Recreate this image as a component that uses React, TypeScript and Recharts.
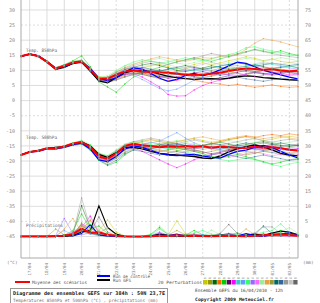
import React from 'react';
import { LineChart, Line, XAxis, YAxis, ReferenceLine } from 'recharts';

// forecast hours (12 h steps from run 16/04/2010 12h)
const HOURS = [0, 12, 24, 36, 48, 60, 72, 84, 96, 108, 120, 132, 144, 156, 168, 180, 192, 204, 216, 228, 240, 252, 264, 276, 288, 300, 312, 324, 336, 348, 360, 372, 384];
const DATE_TICKS = [12, 36, 60, 84, 108, 132, 156, 180, 204, 228, 252, 276, 300, 324, 348, 372];
const DATE_LABELS = ['17/04', '18/04', '19/04', '20/04', '21/04', '22/04', '23/04', '24/04', '25/04', '26/04', '27/04', '28/04', '29/04', '30/04', '01/05', '02/05'];
const DOTTED_DAYS = [132, 252, 372];
const LEFT_TICKS = [30, 25, 20, 15, 10, 5, 0, -5, -10, -15, -20, -25, -30, -35, -40, -45];
const RIGHT_TICKS = [75, 70, 65, 60, 55, 50, 45, 40, 35, 30, 25, 20, 15, 10, 5, 0];
const DOTTED_LEVELS = [25, -5, -40];

const PERT_COLORS = ['#c8c800', '#9a9a00', '#006600', '#ff6600', '#00cc00', '#660066', '#ff00ff', '#33cccc', '#6699ff', '#33ff66', '#9966ff', '#ff66ff', '#99ee99', '#e8a040', '#999933', '#006666', '#336699', '#999999', '#c4c4c4', '#666666'];
const PERT_NUMS = ['01', '02', '03', '04', '05', '06', '07', '08', '09', '10', '11', '12', '13', '14', '15', '16', '17', '18', '19', '20'];

// Temperature 850 hPa (°C)
const MEAN_850 = [14.7, 15.4, 14.7, 12.8, 10.6, 11.5, 12.6, 12.9, 10.2, 7.2, 7.3, 8.6, 9.6, 10.0, 9.6, 9.5, 9.4, 9.2, 8.9, 8.6, 8.5, 8.6, 8.9, 9.2, 9.8, 10.3, 10.6, 10.5, 10.2, 10.4, 10.0, 9.7, 9.9];
const CTRL_850 = [14.6, 15.4, 14.8, 13.0, 10.7, 11.2, 12.5, 13.0, 10.6, 7.4, 6.6, 7.5, 9.5, 10.8, 10.4, 9.0, 7.4, 6.4, 7.0, 8.3, 9.0, 8.2, 9.0, 10.2, 11.5, 12.7, 12.3, 11.2, 10.0, 9.3, 8.5, 7.8, 7.2];
const GFS_850 = [14.6, 15.4, 14.8, 12.8, 10.4, 11.0, 12.3, 12.8, 9.8, 6.5, 5.9, 7.6, 9.2, 10.0, 10.0, 9.6, 8.8, 8.0, 7.6, 7.3, 7.0, 7.2, 7.3, 7.1, 7.4, 7.9, 8.2, 8.0, 7.6, 7.4, 7.1, 6.9, 6.8];
const PERT_850 = [
  [14.7, 15.3, 14.9, 13.0, 10.8, 11.8, 12.9, 13.5, 11.0, 7.9, 7.8, 9.2, 10.5, 11.0, 10.8, 11.5, 12.0, 11.2, 10.5, 11.0, 12.0, 12.5, 11.8, 12.5, 13.2, 13.8, 14.5, 14.0, 13.2, 13.8, 13.0, 12.6, 13.0],
  [14.6, 15.5, 14.6, 12.6, 10.2, 11.3, 12.2, 12.5, 9.8, 6.5, 6.6, 8.0, 9.0, 9.6, 9.0, 8.2, 7.8, 8.4, 9.2, 9.0, 8.2, 7.6, 8.0, 8.8, 9.5, 9.0, 8.6, 9.2, 10.0, 10.5, 9.8, 9.2, 9.5],
  [14.8, 15.4, 14.8, 12.9, 10.7, 11.6, 12.7, 13.2, 10.5, 7.2, 6.8, 8.6, 10.2, 11.0, 11.8, 12.3, 11.6, 10.8, 10.0, 9.6, 10.2, 10.8, 11.5, 11.0, 10.4, 10.8, 11.4, 11.9, 11.2, 10.6, 11.0, 11.5, 10.8],
  [14.7, 15.3, 14.7, 12.7, 10.5, 11.4, 12.5, 12.8, 10.0, 6.8, 6.4, 7.2, 8.4, 9.2, 8.8, 8.0, 7.2, 6.5, 6.9, 7.5, 6.8, 6.2, 5.8, 5.5, 5.0, 5.4, 4.9, 4.4, 4.8, 5.2, 4.7, 4.4, 4.6],
  [14.6, 15.4, 14.9, 13.1, 10.9, 11.9, 13.2, 14.8, 11.2, 6.2, 4.5, 2.8, 5.5, 7.8, 9.0, 10.2, 11.0, 12.0, 12.8, 13.5, 14.2, 13.6, 13.0, 13.8, 14.6, 15.5, 16.2, 17.0, 16.4, 15.8, 16.5, 15.6, 15.0],
  [14.7, 15.3, 14.7, 12.8, 10.6, 11.5, 12.6, 12.9, 10.1, 7.0, 7.0, 8.3, 9.4, 9.8, 9.2, 8.6, 8.0, 7.4, 7.8, 8.5, 9.2, 9.6, 9.0, 8.4, 8.8, 9.4, 10.0, 9.6, 9.0, 8.6, 9.2, 9.8, 9.5],
  [14.7, 15.4, 14.6, 12.6, 10.4, 11.2, 12.4, 12.7, 9.8, 6.8, 6.6, 7.6, 8.6, 9.0, 7.8, 6.2, 4.5, 2.0, 1.5, 1.6, 3.5, 5.0, 6.0, 6.8, 7.5, 8.2, 8.8, 9.4, 10.0, 9.5, 9.0, 8.5, 8.8],
  [14.6, 15.3, 14.8, 13.0, 10.8, 11.6, 12.8, 13.1, 10.4, 7.4, 7.6, 9.0, 10.0, 10.4, 10.0, 9.5, 9.8, 10.4, 10.8, 10.2, 9.8, 10.2, 10.9, 11.5, 12.0, 11.6, 11.2, 11.8, 12.4, 12.0, 11.5, 11.2, 11.6],
  [14.7, 15.4, 14.7, 12.7, 10.5, 11.4, 12.5, 12.9, 10.2, 7.2, 7.4, 8.3, 9.0, 8.4, 7.0, 5.5, 4.0, 3.2, 3.8, 5.2, 6.8, 7.6, 8.2, 8.8, 9.6, 10.2, 10.8, 11.4, 11.0, 10.6, 11.2, 10.8, 10.4],
  [14.6, 15.3, 14.8, 12.9, 10.7, 11.7, 12.9, 13.4, 10.7, 7.6, 7.7, 9.8, 11.5, 12.8, 13.5, 13.0, 12.4, 12.8, 13.5, 14.2, 13.6, 13.2, 13.8, 14.5, 15.2, 16.0, 17.5, 17.8, 17.0, 16.4, 15.8, 15.2, 14.8],
  [14.7, 15.4, 14.8, 12.8, 10.6, 11.5, 12.6, 13.0, 10.3, 7.0, 7.1, 8.8, 10.4, 11.2, 10.6, 10.0, 9.4, 8.8, 9.4, 10.0, 10.6, 10.2, 9.6, 9.0, 8.6, 8.2, 8.8, 9.4, 8.8, 8.3, 8.8, 9.4, 9.0],
  [14.8, 15.5, 14.6, 12.6, 10.3, 11.3, 12.4, 12.6, 9.7, 6.6, 6.7, 7.8, 9.0, 9.6, 10.2, 9.4, 8.2, 7.4, 6.6, 7.2, 8.0, 7.4, 6.8, 7.5, 8.4, 9.0, 8.4, 7.8, 8.4, 9.0, 8.6, 8.2, 8.5],
  [14.7, 15.3, 14.8, 13.0, 11.0, 11.8, 12.9, 13.3, 10.6, 7.8, 8.2, 10.0, 11.6, 12.2, 12.8, 13.4, 14.0, 13.2, 12.4, 12.0, 12.6, 13.2, 12.6, 12.0, 12.6, 13.4, 14.0, 13.6, 13.0, 13.6, 14.2, 13.8, 13.2],
  [14.6, 15.4, 14.7, 12.9, 10.7, 11.6, 12.7, 13.0, 10.4, 7.4, 7.6, 9.4, 11.0, 12.0, 13.0, 13.8, 14.5, 14.0, 13.4, 13.0, 13.6, 14.2, 14.0, 14.6, 15.0, 15.2, 17.0, 19.0, 20.5, 20.0, 19.4, 18.6, 17.8],
  [14.7, 15.3, 14.7, 12.7, 10.4, 11.2, 12.3, 12.6, 9.8, 6.6, 6.2, 7.0, 8.0, 8.8, 9.4, 9.0, 8.4, 9.0, 9.8, 10.6, 11.2, 10.6, 10.0, 10.6, 11.2, 10.8, 10.2, 9.6, 10.2, 10.8, 10.4, 10.0, 10.2],
  [14.6, 15.4, 14.8, 12.9, 10.8, 11.7, 12.8, 13.1, 10.2, 6.9, 6.8, 8.2, 9.6, 10.4, 11.0, 10.4, 9.8, 10.4, 11.0, 11.6, 11.0, 10.4, 10.8, 11.4, 12.0, 12.6, 12.0, 11.4, 11.8, 12.4, 12.0, 11.6, 12.0],
  [14.7, 15.3, 14.6, 12.7, 10.5, 11.4, 12.4, 12.7, 9.9, 6.7, 6.5, 7.6, 8.8, 9.2, 8.6, 8.0, 7.6, 8.2, 8.8, 8.4, 7.8, 7.4, 7.0, 7.6, 8.2, 7.8, 7.2, 6.8, 6.4, 6.9, 7.4, 7.0, 6.6],
  [14.7, 15.4, 14.8, 13.0, 10.8, 11.7, 12.9, 13.3, 10.6, 7.5, 7.8, 9.4, 10.8, 11.6, 12.4, 13.0, 12.6, 12.0, 12.8, 13.4, 14.0, 14.8, 15.6, 15.0, 14.4, 15.2, 16.0, 16.8, 16.2, 15.6, 15.0, 14.6, 14.2],
  [14.6, 15.3, 14.7, 12.8, 10.6, 11.5, 12.6, 12.9, 10.2, 7.0, 7.3, 8.6, 9.8, 10.6, 11.2, 11.8, 12.4, 11.8, 11.2, 10.8, 11.4, 12.0, 12.6, 12.0, 11.4, 11.0, 11.6, 12.2, 12.8, 12.4, 12.0, 12.6, 12.2],
  [14.7, 15.3, 14.6, 12.6, 10.4, 11.2, 12.3, 12.5, 9.6, 6.4, 6.0, 6.8, 7.8, 8.6, 9.2, 9.8, 10.2, 9.6, 9.0, 8.6, 8.2, 8.6, 9.2, 9.8, 10.4, 10.0, 9.6, 9.2, 8.8, 9.2, 9.6, 9.2, 8.8],
];

// Temperature 500 hPa (°C)
const MEAN_500 = [-18.0, -17.0, -16.6, -15.8, -15.8, -15.2, -14.2, -13.7, -15.3, -18.5, -19.3, -17.5, -15.0, -14.3, -14.8, -15.0, -15.4, -15.2, -15.3, -15.0, -15.3, -15.1, -15.6, -15.3, -15.4, -15.6, -15.7, -15.3, -15.6, -15.4, -15.8, -16.3, -16.5];
const CTRL_500 = [-18.0, -17.0, -16.8, -16.0, -16.0, -15.5, -14.6, -14.0, -16.0, -19.6, -20.2, -18.5, -16.0, -15.0, -15.5, -16.5, -17.5, -18.0, -18.2, -18.0, -17.8, -18.3, -18.8, -19.0, -17.8, -16.8, -16.4, -15.5, -14.8, -15.5, -16.8, -18.0, -19.0];
const GFS_500 = [-18.0, -17.0, -16.6, -15.8, -15.5, -15.3, -14.3, -13.8, -15.0, -17.8, -18.8, -17.2, -15.6, -15.5, -16.0, -16.8, -17.5, -17.8, -18.0, -18.3, -18.5, -19.0, -19.2, -18.3, -17.0, -16.0, -15.2, -14.7, -15.3, -16.3, -17.5, -18.0, -18.3];
const PERT_500 = [
  [-18.0, -17.1, -16.5, -15.6, -15.6, -15.0, -14.0, -13.4, -14.8, -17.5, -18.4, -16.8, -14.8, -13.8, -13.5, -12.8, -13.4, -14.0, -13.6, -13.0, -12.6, -13.2, -13.8, -13.4, -12.8, -12.4, -12.0, -12.6, -13.2, -12.8, -12.2, -11.8, -12.2],
  [-18.1, -16.9, -16.7, -15.9, -16.0, -15.4, -14.6, -14.0, -15.8, -19.0, -20.2, -18.6, -16.4, -15.4, -15.8, -16.4, -17.0, -16.4, -15.8, -16.2, -16.8, -17.4, -16.8, -16.2, -16.8, -17.4, -18.0, -17.4, -16.8, -17.2, -17.8, -18.4, -18.0],
  [-17.9, -17.0, -16.4, -15.7, -15.5, -15.1, -14.2, -13.6, -15.0, -18.0, -19.0, -17.0, -15.0, -14.2, -14.6, -15.2, -14.6, -14.0, -14.4, -15.0, -15.6, -15.0, -14.4, -13.8, -14.4, -15.0, -14.6, -14.0, -13.6, -14.2, -14.8, -15.2, -14.8],
  [-18.0, -17.0, -16.6, -15.8, -15.9, -15.3, -14.4, -13.9, -15.5, -18.8, -20.0, -18.0, -15.8, -14.8, -15.2, -15.8, -16.4, -17.0, -16.6, -16.0, -15.4, -14.8, -14.2, -13.6, -13.0, -12.4, -11.8, -12.2, -11.6, -11.2, -11.6, -11.0, -11.4],
  [-18.0, -17.0, -16.7, -16.0, -16.1, -15.5, -14.8, -14.4, -16.4, -19.8, -21.5, -20.4, -18.0, -16.2, -15.6, -15.0, -14.4, -15.0, -15.6, -16.2, -16.8, -17.6, -18.4, -19.0, -18.4, -17.8, -18.6, -19.4, -20.2, -21.0, -20.4, -19.6, -19.2],
  [-18.0, -17.0, -16.6, -15.8, -15.8, -15.2, -14.4, -13.8, -15.6, -18.4, -19.2, -17.6, -15.6, -14.6, -15.0, -15.4, -15.0, -14.6, -15.0, -15.6, -16.0, -15.6, -15.2, -15.6, -16.2, -15.8, -15.4, -15.8, -16.4, -16.0, -15.6, -16.2, -16.6],
  [-18.1, -17.1, -16.6, -15.8, -15.7, -15.1, -14.2, -13.5, -15.2, -18.0, -19.0, -17.5, -15.8, -15.6, -16.8, -18.2, -19.6, -21.0, -22.2, -21.0, -19.6, -18.6, -17.8, -17.2, -16.6, -16.0, -15.6, -15.2, -15.8, -16.4, -16.0, -15.6, -15.8],
  [-18.0, -17.0, -16.5, -15.7, -15.7, -15.1, -14.3, -13.7, -15.3, -18.2, -19.1, -17.2, -15.2, -14.4, -14.8, -15.2, -15.6, -16.0, -15.6, -15.2, -14.8, -15.2, -15.6, -16.0, -15.6, -15.2, -15.6, -16.0, -16.4, -16.0, -15.6, -16.0, -16.4],
  [-18.0, -17.0, -16.7, -15.9, -15.9, -15.3, -14.6, -14.2, -16.0, -19.2, -20.4, -19.0, -17.0, -15.6, -14.6, -14.0, -13.4, -12.0, -10.6, -12.4, -14.0, -15.0, -15.8, -16.4, -17.0, -16.8, -16.4, -16.0, -16.6, -17.2, -16.8, -16.4, -16.8],
  [-17.9, -16.9, -16.5, -15.6, -15.5, -15.0, -14.0, -13.2, -14.6, -17.4, -18.2, -16.4, -14.4, -13.6, -14.0, -14.6, -15.2, -15.8, -16.4, -17.0, -17.6, -18.2, -18.8, -19.4, -20.0, -19.6, -19.0, -19.6, -20.4, -21.2, -21.8, -21.0, -20.4],
  [-18.0, -17.0, -16.6, -15.8, -15.8, -15.2, -14.5, -14.0, -15.8, -18.6, -19.6, -18.2, -16.2, -15.0, -14.4, -13.8, -14.4, -15.0, -14.6, -14.2, -14.8, -15.4, -16.0, -15.6, -15.2, -14.8, -15.4, -16.0, -15.6, -15.2, -15.8, -16.4, -16.0],
  [-18.0, -17.1, -16.7, -15.9, -16.0, -15.4, -14.7, -14.2, -16.0, -19.0, -19.8, -18.0, -16.0, -15.2, -15.8, -16.6, -17.4, -18.2, -17.6, -17.0, -16.4, -17.0, -17.6, -18.2, -18.8, -18.2, -17.6, -17.0, -17.6, -18.2, -17.8, -17.4, -17.8],
  [-18.0, -16.9, -16.5, -15.7, -15.6, -15.0, -14.2, -13.6, -15.2, -18.0, -18.8, -16.8, -14.6, -13.8, -13.2, -13.8, -14.4, -13.8, -13.2, -13.8, -14.4, -15.0, -14.4, -13.8, -13.2, -13.8, -14.4, -13.8, -13.2, -13.8, -14.2, -13.8, -13.4],
  [-18.0, -17.0, -16.6, -15.8, -15.8, -15.2, -14.5, -14.0, -15.6, -18.4, -19.2, -17.4, -15.4, -14.2, -13.6, -13.0, -13.6, -14.2, -13.6, -13.0, -12.4, -12.0, -12.6, -13.2, -12.6, -12.0, -11.6, -12.0, -12.6, -12.2, -11.8, -12.4, -12.8],
  [-18.0, -17.0, -16.6, -15.9, -15.9, -15.3, -14.6, -14.2, -16.2, -19.4, -20.6, -19.2, -17.2, -16.0, -15.6, -16.2, -16.8, -16.2, -15.6, -16.2, -16.8, -16.2, -15.6, -15.0, -15.6, -16.2, -16.8, -17.4, -16.8, -16.2, -16.8, -17.4, -17.0],
  [-18.0, -17.0, -16.6, -15.8, -15.7, -15.1, -14.4, -13.8, -15.4, -18.2, -19.0, -17.2, -15.2, -14.8, -15.4, -16.0, -15.4, -14.8, -14.2, -14.8, -15.4, -14.8, -14.2, -14.6, -15.2, -14.6, -14.0, -14.6, -15.2, -14.6, -14.0, -14.6, -15.0],
  [-18.1, -17.0, -16.6, -15.8, -15.9, -15.3, -14.7, -14.3, -16.2, -19.6, -21.2, -19.8, -17.6, -16.4, -16.8, -17.4, -18.0, -17.4, -16.8, -17.4, -18.0, -18.6, -18.0, -17.4, -18.0, -18.6, -19.2, -18.6, -18.0, -18.6, -19.2, -19.8, -19.4],
  [-18.0, -17.0, -16.5, -15.7, -15.6, -15.0, -14.3, -13.6, -15.0, -17.6, -18.4, -16.6, -14.6, -13.6, -13.0, -12.4, -13.0, -13.6, -14.2, -13.6, -13.0, -13.6, -14.2, -14.8, -14.2, -13.6, -13.0, -12.6, -13.2, -13.8, -13.2, -12.8, -13.2],
  [-18.0, -17.0, -16.6, -15.8, -15.8, -15.2, -14.4, -13.9, -15.6, -18.4, -19.4, -17.8, -15.8, -14.8, -15.2, -15.6, -16.2, -16.8, -17.4, -16.8, -16.2, -15.6, -15.0, -15.4, -16.0, -16.6, -17.2, -16.6, -16.0, -16.4, -17.0, -17.6, -17.2],
  [-18.0, -17.0, -16.6, -15.9, -15.9, -15.3, -14.6, -14.1, -15.9, -18.8, -19.8, -18.2, -16.0, -15.0, -15.4, -15.8, -15.2, -14.6, -15.2, -15.8, -16.4, -17.0, -17.6, -17.0, -16.4, -15.8, -15.2, -14.6, -14.0, -14.6, -15.2, -14.8, -14.4],
];

// Precipitation (mm)
const MEAN_PR = [0.1, 0.1, 0.1, 0.1, 0.2, 0.3, 0.8, 2.6, 1.2, 1.4, 0.6, 0.3, 0.1, 0, 0, 0.1, 0.3, 0.2, 0.4, 0.2, 0.3, 0.2, 0.1, 0.2, 0.3, 0.2, 0.1, 0.3, 0.4, 0.6, 0.8, 0.5, 0.3];
const CTRL_PR = [0, 0, 0, 0, 0, 0.5, 0.2, 1.0, 4.0, 0.5, 0.2, 0, 0, 0, 0, 0, 0.5, 0.3, 0.8, 0.2, 0, 0, 0.2, 0, 0.5, 0.2, 1.0, 0.3, 0, 0.5, 0.8, 1.2, 0.5];
const GFS_PR = [0, 0, 0, 0, 0, 0, 0.3, 1.5, 2.0, 10.2, 3.0, 0.8, 0, 0, 0, 0.2, 0.8, 0.4, 0.2, 0, 0.3, 0, 0.2, 0.5, 0.3, 0, 0.5, 0.8, 0.4, 1.2, 1.8, 1.5, 0.6];
const PERT_PR = [
  [0, 0, 0, 0, 0.2, 0.5, 1.2, 3.5, 1.0, 2.0, 5.5, 1.5, 0.2, 0, 0, 0, 0.3, 0.5, 5.2, 1.0, 0.2, 0, 0, 0.3, 0.5, 0.2, 0, 0.3, 0.6, 0.2, 0.8, 0.4, 0.2],
  [0, 0, 0, 0, 2.5, 0.5, 0.3, 4.5, 2.0, 0.6, 0.2, 0, 0, 0, 0, 0.2, 0.6, 0.2, 0, 0.3, 0.8, 0.3, 0, 0, 0.4, 0.2, 0, 0.5, 1.0, 0.4, 0.2, 0.6, 0.3],
  [0, 0, 0, 0, 0, 0.3, 1.0, 10.2, 3.0, 1.0, 0.3, 0, 0, 0, 0, 0, 0.2, 0, 0.3, 0.6, 0.2, 0, 0.2, 0.4, 0.2, 0, 0.3, 0.6, 0.3, 0.8, 1.2, 0.6, 0.3],
  [0, 0, 0, 0, 0, 0.2, 0.5, 2.0, 5.5, 1.5, 0.4, 0, 0, 0, 0, 0, 0, 0.3, 0.2, 0, 0, 0.2, 0.4, 0.2, 0, 0, 0.2, 0, 0.3, 0.6, 1.0, 0.8, 0.4],
  [0, 0, 0, 0, 0, 0.4, 2.0, 7.5, 2.5, 3.5, 1.0, 0.3, 0, 0, 0, 0.8, 3.0, 0.6, 0.2, 0.5, 2.0, 0.6, 0.3, 0.2, 0.6, 1.2, 0.5, 0.2, 0.4, 1.0, 2.0, 0.8, 0.5],
  [0, 0, 0, 0, 0, 0.2, 0.8, 4.0, 1.5, 0.8, 0.2, 0, 0, 0, 0, 0, 0.3, 0.1, 0, 0, 0.2, 0, 0, 0.2, 0.3, 0, 0, 0.2, 0.4, 0.2, 0.3, 0.2, 0],
  [0, 0, 0, 0, 0, 0.3, 1.5, 3.0, 6.7, 1.2, 0.3, 0, 0, 0, 0, 0.2, 1.2, 0.4, 0.2, 0.3, 0.8, 0.3, 0, 0.2, 0.5, 0.3, 0, 0.2, 0.4, 0.6, 0.3, 0.2, 0.1],
  [0, 0, 0, 0, 0, 0.2, 0.6, 2.0, 1.0, 0.4, 0.1, 0, 0, 0, 0, 0, 0.2, 0.3, 0.1, 0, 0.2, 0.5, 0.2, 0, 0.2, 0.4, 0.2, 0, 0.3, 0.5, 0.2, 0.4, 0.2],
  [0, 0, 0, 0, 0.2, 2.0, 0.5, 1.5, 0.8, 0.3, 0, 0, 0, 0, 0, 0.3, 1.0, 0.4, 0.2, 0, 0.3, 0.6, 0.3, 0.2, 0.8, 0.4, 0.2, 0.6, 0.3, 0.2, 0.5, 0.8, 0.4],
  [0, 0, 0, 0, 0, 0.3, 1.0, 2.5, 4.0, 1.0, 0.3, 0, 0, 0, 0, 0.5, 2.5, 0.8, 0.3, 0.6, 1.2, 2.0, 0.8, 0.4, 1.0, 0.6, 0.3, 0.8, 1.4, 2.0, 4.2, 1.5, 0.6],
  [0, 0, 0, 0, 0.3, 6.0, 1.0, 0.6, 1.2, 0.4, 0.2, 0, 0, 0, 0, 0.3, 1.5, 0.4, 0.2, 0.4, 0.2, 0, 0.2, 0.5, 1.0, 0.3, 0, 0.3, 0.5, 0.2, 0.6, 0.3, 0.2],
  [0, 0, 0, 0, 0, 0.2, 0.8, 4.0, 3.0, 1.0, 0.3, 0, 0, 0, 0, 0.2, 0.5, 0.2, 0, 0.2, 0.4, 0.2, 0, 0.2, 0.5, 0.3, 0, 0.2, 0.3, 0.5, 0.2, 0.1, 0],
  [0, 0, 0, 0, 0, 0.3, 2.0, 3.0, 5.0, 1.5, 2.5, 0.5, 0, 0, 0, 0.3, 3.5, 1.0, 0.3, 0.5, 0.4, 0.2, 2.2, 0.6, 0.3, 0.2, 0.5, 0.3, 0.2, 0.6, 1.5, 3.0, 1.0],
  [0, 0, 0, 0, 0, 2.5, 6.0, 1.5, 1.0, 0.5, 0.2, 0, 0, 0, 0, 0, 0.2, 0.3, 0.5, 0.2, 0, 0.3, 0.5, 0.2, 0, 0.3, 2.5, 0.6, 0.3, 0.2, 0.4, 0.2, 0.1],
  [0, 0, 0, 0, 0, 0.3, 0.6, 3.5, 2.0, 1.0, 3.0, 0.8, 0.2, 0, 0, 0, 0.3, 0.5, 2.0, 0.6, 0.2, 0, 0, 0.2, 0.4, 0.2, 0, 0.3, 0.5, 0.3, 0.6, 0.4, 0.2],
  [0, 0, 0, 0, 0, 0.2, 0.5, 1.8, 1.2, 0.6, 0.2, 0, 0, 0, 0, 0, 0.2, 0.4, 0.2, 0, 0.2, 0.4, 0.2, 0.5, 1.0, 0.3, 0.2, 0.6, 3.5, 1.0, 0.4, 0.6, 0.3],
  [0, 0, 0, 0, 0, 0.2, 0.4, 2.5, 1.5, 0.5, 0.2, 0, 0, 0, 0, 0.2, 0.6, 0.3, 0.1, 0, 0.3, 0.2, 0, 0.2, 0.6, 0.3, 0.1, 0.2, 0.4, 0.8, 0.5, 0.3, 0.2],
  [0, 0, 0, 0, 0, 0.3, 1.0, 12.8, 3.0, 1.0, 0.4, 0, 0, 0, 0, 0.2, 0.4, 0.2, 0.3, 0.6, 0.2, 0, 0.2, 0.4, 0.2, 0, 0.6, 1.2, 3.2, 3.2, 1.0, 0.4, 0.2],
  [0, 0, 0, 0, 0, 0.2, 0.6, 3.0, 7.0, 2.0, 0.5, 0.2, 0, 0, 0, 0, 0.3, 0.6, 0.4, 0.2, 0.4, 0.2, 0, 0.3, 0.6, 0.2, 0, 0.4, 0.7, 0.3, 0.2, 0.4, 0.2],
  [0, 0, 0, 0, 0, 0.2, 0.8, 2.0, 1.5, 6.5, 1.5, 0.3, 0, 0, 0, 0, 0.4, 0.2, 0, 0.2, 0.5, 0.2, 0.3, 1.0, 4.0, 1.0, 0.3, 0.2, 0.5, 0.3, 0.2, 0.5, 0.3],
];

const rows = HOURS.map((h, i) => {
  const r: Record<string, number> = {
    h,
    m850: MEAN_850[i], c850: CTRL_850[i], g850: GFS_850[i],
    m500: MEAN_500[i], c500: CTRL_500[i], g500: GFS_500[i],
    mpr: MEAN_PR[i], cpr: CTRL_PR[i], gpr: GFS_PR[i],
  };
  PERT_850.forEach((s, k) => { r[`a${k}`] = s[i]; });
  PERT_500.forEach((s, k) => { r[`b${k}`] = s[i]; });
  PERT_PR.forEach((s, k) => { r[`c${k}`] = s[i]; });
  return r;
});

const FONT = '"DejaVu Sans Mono", monospace';
const GRID = '#d4d4d4';

const DateTick = (props: any) => {
  const { x, payload } = props;
  const idx = DATE_TICKS.indexOf(payload.value);
  const y = 263;
  return (
    <text x={x} y={y} transform={`rotate(-90 ${x} ${y})`} textAnchor="end" dy="0.35em" fontSize={4.2} fill="#777" fontFamily={FONT}>
      {DATE_LABELS[idx]}
    </text>
  );
};

const pertLine = (prefix: string, k: number, axis: string) => (
  <Line
    key={`${prefix}${k}`}
    yAxisId={axis}
    dataKey={`${prefix}${k}`}
    type="linear"
    stroke={PERT_COLORS[k]}
    strokeWidth={0.6}
    strokeOpacity={0.75}
    dot={{ r: 0.7, fill: PERT_COLORS[k], stroke: 'none', fillOpacity: 0.85 }}
    isAnimationActive={false}
  />
);

const T = (p: any) => <text fontFamily={FONT} {...p} />;

export default function App() {
  return (
    <div style={{ position: 'absolute', left: 0, top: 0, width: 320, height: 303, background: '#fff', overflow: 'hidden' }}>
      <LineChart width={320} height={303} data={rows} margin={{ top: 0, right: 0, bottom: 0, left: 0 }}>
        <XAxis
          dataKey="h"
          type="number"
          domain={[0, 384]}
          ticks={DATE_TICKS}
          interval={0}
          height={45}
          tickLine={false}
          axisLine={{ stroke: '#aaa' }}
          tick={<DateTick />}
        />
        <YAxis
          yAxisId="left"
          orientation="left"
          width={21}
          domain={[-52.1, 33.3]}
          ticks={LEFT_TICKS}
          interval={0}
          allowDataOverflow
          tickLine={false}
          tickSize={4}
          tickMargin={2}
          axisLine={{ stroke: '#aaa' }}
          tick={{ fontSize: 5, fill: '#888', fontFamily: FONT }}
        />
        <YAxis
          yAxisId="right"
          orientation="right"
          width={22}
          domain={[-7.1, 78.3]}
          ticks={RIGHT_TICKS}
          interval={0}
          allowDataOverflow
          tickLine={false}
          tickSize={5}
          tickMargin={2}
          axisLine={{ stroke: '#aaa' }}
          tick={{ fontSize: 5, fill: '#888', fontFamily: FONT }}
        />
        {LEFT_TICKS.map((v) => (
          <ReferenceLine key={`hy${v}`} yAxisId="left" y={v} stroke={GRID} strokeWidth={0.8} strokeDasharray={DOTTED_LEVELS.includes(v) ? '2 2' : undefined} />
        ))}
        {DATE_TICKS.map((v) => (
          <ReferenceLine key={`vx${v}`} yAxisId="left" x={v} stroke={GRID} strokeWidth={0.8} strokeDasharray={DOTTED_DAYS.includes(v) ? '2 2' : undefined} />
        ))}
        {PERT_850.map((_, k) => pertLine('a', k, 'left'))}
        {PERT_500.map((_, k) => pertLine('b', k, 'left'))}
        {PERT_PR.map((_, k) => pertLine('c', k, 'right'))}
        <Line yAxisId="left" dataKey="g850" type="linear" stroke="#000" strokeWidth={1.3} dot={false} isAnimationActive={false} />
        <Line yAxisId="left" dataKey="c850" type="linear" stroke="#0000ff" strokeWidth={1.3} dot={false} isAnimationActive={false} />
        <Line yAxisId="left" dataKey="m850" type="linear" stroke="#ff0000" strokeWidth={2} dot={false} isAnimationActive={false} />
        <Line yAxisId="left" dataKey="g500" type="linear" stroke="#000" strokeWidth={1.3} dot={false} isAnimationActive={false} />
        <Line yAxisId="left" dataKey="c500" type="linear" stroke="#0000ff" strokeWidth={1.3} dot={false} isAnimationActive={false} />
        <Line yAxisId="left" dataKey="m500" type="linear" stroke="#ff0000" strokeWidth={2} dot={false} isAnimationActive={false} />
        <Line yAxisId="right" dataKey="gpr" type="linear" stroke="#000" strokeWidth={1.1} dot={false} isAnimationActive={false} />
        <Line yAxisId="right" dataKey="cpr" type="linear" stroke="#0000ff" strokeWidth={1.1} dot={false} isAnimationActive={false} />
        <Line yAxisId="right" dataKey="mpr" type="linear" stroke="#ff0000" strokeWidth={2} dot={false} isAnimationActive={false} />
      </LineChart>
      <svg width={320} height={303} style={{ position: 'absolute', left: 0, top: 0, pointerEvents: 'none' }}>
        <T x={26} y={52} fontSize={4.6} fill="#666" textLength={31} lengthAdjust="spacingAndGlyphs">Temp. 850hPa</T>
        <T x={26} y={139} fontSize={4.6} fill="#666" textLength={31} lengthAdjust="spacingAndGlyphs">Temp. 500hPa</T>
        <T x={26} y={227} fontSize={4.6} fill="#666" textLength={37} lengthAdjust="spacingAndGlyphs">Précipitations</T>
        <T x={7} y={264} fontSize={4.4} fill="#777">(°C)</T>
        <T x={303} y={264} fontSize={4.4} fill="#777">(mm)</T>
        <line x1={15} y1={282} x2={30} y2={282} stroke="#ff0000" strokeWidth={2} />
        <T x={32} y={284} fontSize={4.4} fill="#555" textLength={55} lengthAdjust="spacingAndGlyphs">Moyenne des scénarios</T>
        <line x1={97} y1={276} x2={110} y2={276} stroke="#0000ff" strokeWidth={2} />
        <T x={113} y={278} fontSize={4.4} fill="#555" textLength={37} lengthAdjust="spacingAndGlyphs">Run de contrôle</T>
        <line x1={97} y1={280} x2={110} y2={280} stroke="#000" strokeWidth={2} />
        <T x={113} y={282} fontSize={4.4} fill="#555" textLength={18} lengthAdjust="spacingAndGlyphs">Run GFS</T>
        <T x={158} y={284} fontSize={4.4} fill="#555" textLength={44} lengthAdjust="spacingAndGlyphs">20 Perturbations</T>
        {PERT_COLORS.map((c, k) => (
          <g key={`sw${k}`}>
            <rect x={203 + k * 4.75} y={280} width={4.3} height={4.5} fill={c} />
            <T x={205.1 + k * 4.75} y={278.5} fontSize={2.4} fill="#777" textAnchor="middle">{PERT_NUMS[k]}</T>
          </g>
        ))}
        <rect x={10.5} y={288.5} width={157} height={20} fill="#fff" stroke="#999" strokeWidth={1} />
        <T x={13} y={295} fontSize={5} fill="#222" fontWeight="bold" textLength={152} lengthAdjust="spacingAndGlyphs">Diagramme des ensembles GEFS sur 384h : 50N 23,7E</T>
        <T x={13} y={301.5} fontSize={4.4} fill="#777" textLength={145} lengthAdjust="spacingAndGlyphs">Températures 850hPa et 500hPa (°C) , précipitations (mm)</T>
        <T x={195} y={292} fontSize={4.4} fill="#444" textLength={88} lengthAdjust="spacingAndGlyphs">Ensemble GEFS du 16/04/2010 - 12h</T>
        <T x={195} y={301} fontSize={4.6} fill="#222" fontWeight="bold" textLength={79} lengthAdjust="spacingAndGlyphs">Copyright 2009 Meteociel.fr</T>
      </svg>
    </div>
  );
}
